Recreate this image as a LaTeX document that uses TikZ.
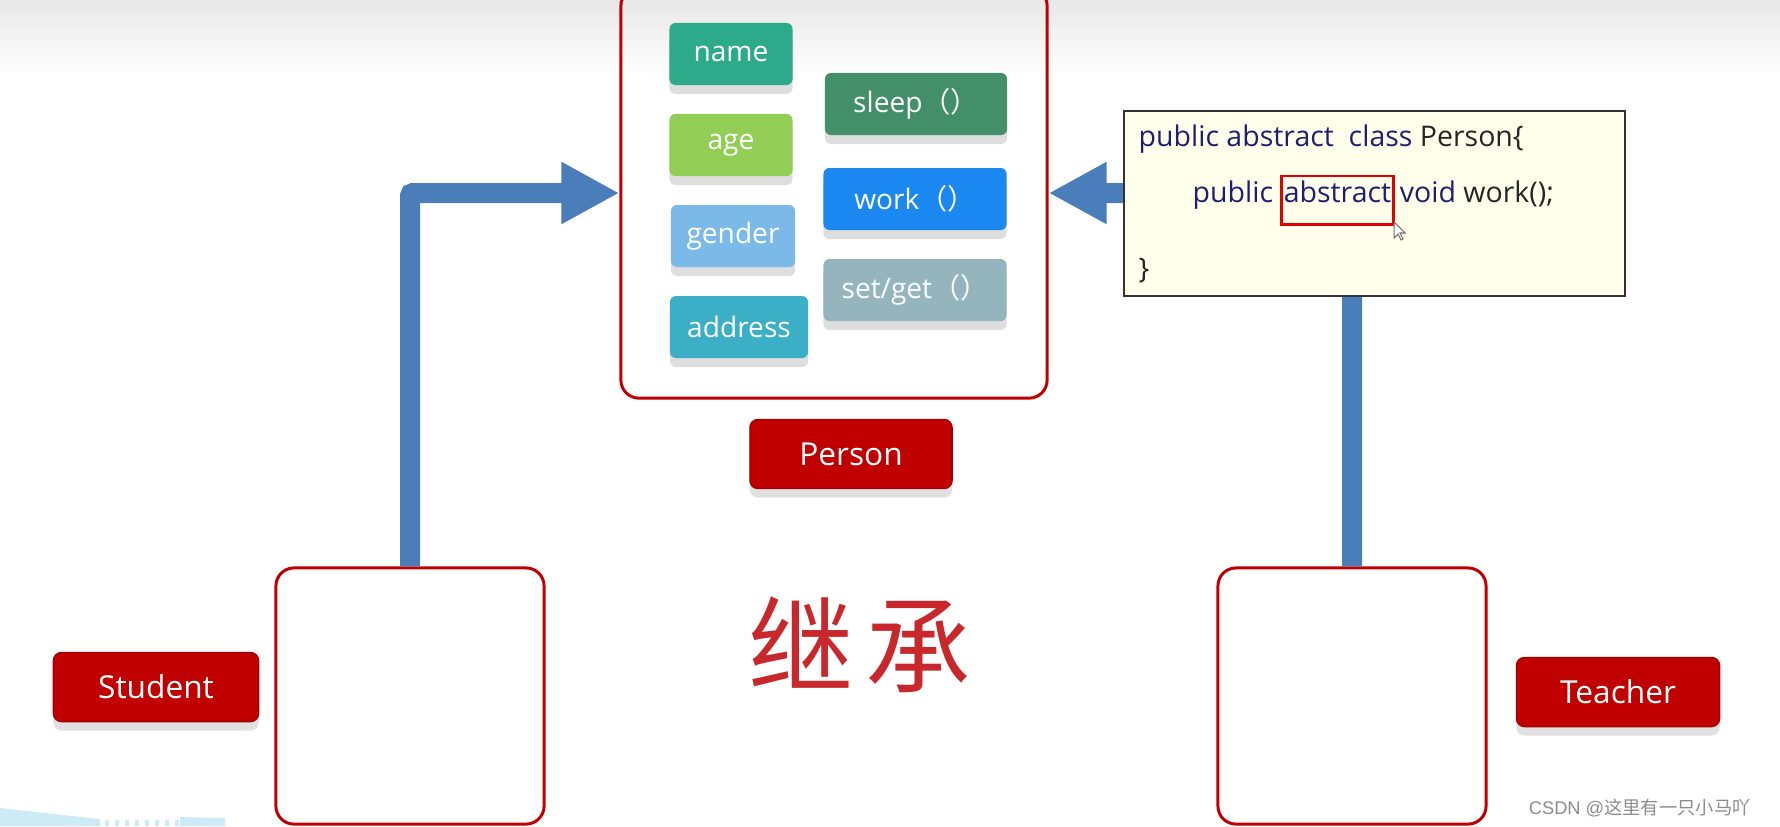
\documentclass[tikz,border=0pt]{standalone}
\usepackage{fontspec}
\setmainfont{Open Sans}
\newfontfamily\cjk{Noto Sans CJK SC}
\newfontfamily\wmfont{Liberation Sans}
\usetikzlibrary{arrows.meta,positioning,shadows}
\definecolor{boxred}{HTML}{C00000}
\definecolor{flowblue}{HTML}{4A7EBB}
\definecolor{codebg}{HTML}{FFFFEB}
\definecolor{codenavy}{HTML}{1F1F70}
\definecolor{inkred}{HTML}{C8282C}
\definecolor{namec}{HTML}{2CAA8A}
\definecolor{agec}{HTML}{92CD55}
\definecolor{genderc}{HTML}{7BBAE8}
\definecolor{addressc}{HTML}{3AAFC5}
\definecolor{sleepc}{HTML}{438F6A}
\definecolor{workc}{HTML}{1A88F0}
\definecolor{setgetc}{HTML}{94B5BE}
\definecolor{glassblue}{HTML}{CDEBF7}

\begin{document}
\begin{tikzpicture}[x=0.01cm,y=-0.01cm,
    inh/.style={line width=0.2cm,draw=flowblue,rounded corners=0.03cm,
                -{Triangle[length=0.58cm,width=0.58cm]}},
    frame/.style={draw=boxred,line width=0.85pt,rounded corners=0.18cm},
    attr/.style={rounded corners=0.06cm,text=white,minimum height=0.62cm,
                 font=\fontsize{8}{9}\selectfont,
                 drop shadow={shadow xshift=0cm,shadow yshift=-0.09cm,fill=black!13,opacity=1}},
    lbl/.style={fill=boxred,draw=boxred!85!black,text=white,rounded corners=0.08cm,
                minimum width=2.03cm,minimum height=0.69cm,
                font=\fontsize{9}{10}\selectfont,
                drop shadow={shadow xshift=0cm,shadow yshift=-0.09cm,fill=black!12,opacity=1}},
    codetxt/.style={inner sep=0pt,text height=0.7em,text depth=0.25em,
                    font=\fontsize{8.1}{9}\selectfont,text=black!85}]
  \useasboundingbox (0,0) rectangle (1780,826);
  \clip (0,0) rectangle (1780,826);
  \fill[top color=black!9,bottom color=white] (0,0) rectangle (1780,75);
  \fill[glassblue] (0,808) -- (100,819) -- (100,826) -- (0,826) -- cycle;
  \fill[glassblue] (180,817) -- (225,818) -- (225,826) -- (180,826) -- cycle;
  \foreach \s in {105,115,...,175} \fill[glassblue] (\s,820) rectangle ++(4,6);

\node[frame,minimum width=4.26cm,minimum height=4.1cm] (person) at (834,193) {};
\node[frame,minimum width=2.68cm,minimum height=2.56cm] (student) at (410,696) {};
\node[frame,minimum width=2.68cm,minimum height=2.56cm] (teacher) at (1352,696) {};

\draw[inh] (student.north) |- (person.west);
\draw[inh] (teacher.north) |- (person.east);

\node[draw=black!80,line width=0.6pt,fill=codebg,minimum width=5.01cm,minimum height=1.85cm] (code) at (1374.5,203.5) {};
\node[codetxt,anchor=base west] (line1) at (1138,146) {{\color{codenavy}public abstract~~class} Person\{};
\node[codetxt,anchor=base west] (line2) at (1192,202) {\color{codenavy}public};
\node[codetxt,anchor=base west,draw=red!90!black,line width=0.85pt,inner xsep=0.025cm,
      inner ysep=0.07cm,text height=0.19cm,text depth=0.15cm,text=codenavy] (absword)
      at ([xshift=0.06cm]line2.base east) {abstract};
\node[codetxt,anchor=base west] (line2b) at ([xshift=0.04cm]absword.base east) {{\color{codenavy}void} work();};
\node[codetxt,anchor=base west] (line3) at (1138,278) {\}};
\filldraw[fill=white,draw=black!55,line width=0.3pt] (1394,222) -- ++(0,16) -- ++(4,-4) -- ++(3,6)
  -- ++(2,-1) -- ++(-3,-6) -- ++(5,0) -- cycle;

\node[attr,fill=namec,minimum width=1.23cm] (name) at (731,54) {name};
\node[attr,fill=agec,minimum width=1.23cm] (age) at (731,145) {age};
\node[attr,fill=genderc,minimum width=1.24cm] (gender) at (733,236) {gender};
\node[attr,fill=addressc,minimum width=1.38cm] (address) at (739,327) {address};
\node[attr,fill=sleepc,minimum width=1.82cm] (sleep) at (916,104) {sleep{\cjk （）}};
\node[attr,fill=workc,minimum width=1.83cm] (work) at (915,199) {work{\cjk （）}};
\node[attr,fill=setgetc,minimum width=1.83cm] (setget) at (915,290) {set/get{\cjk （）}};

\node[lbl,minimum width=2.02cm] (personlbl) at (851,454) {Person};
\node[lbl,minimum width=2.05cm] (studentlbl) at (156,687) {Student};
\node[lbl] (teacherlbl) at (1618,692) {Teacher};

\node[text=inkred,font=\cjk\fontsize{30}{30}\selectfont] (jicheng) at (860,645) {继\hspace{0.12cm}承};
\node[anchor=east,text=black!45,font=\wmfont\fontsize{5.2}{7}\selectfont] (mark) at (1763,808) {CSDN @{\cjk 这里有一只小马吖}};
\end{tikzpicture}
\end{document}
